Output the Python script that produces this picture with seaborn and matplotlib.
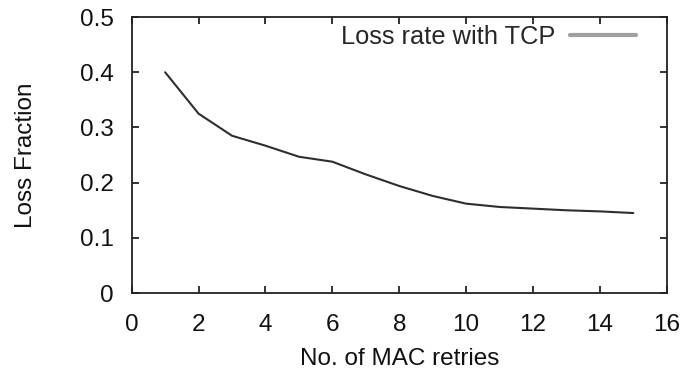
import matplotlib
matplotlib.use("Agg")
import matplotlib.pyplot as plt
import seaborn as sns
import pandas as pd
from matplotlib.lines import Line2D

retries = [1, 2, 3, 4, 5, 6, 7, 8, 9, 10, 11, 12, 13, 14, 15]
loss = [0.400, 0.325, 0.285, 0.267, 0.247, 0.238, 0.215, 0.194, 0.176,
        0.162, 0.156, 0.153, 0.150, 0.148, 0.145]
x_ticks = [0, 2, 4, 6, 8, 10, 12, 14, 16]
y_ticks = [0, 0.1, 0.2, 0.3, 0.4, 0.5]
y_tick_labels = ["0", "0.1", "0.2", "0.3", "0.4", "0.5"]

sns.set_theme(style="ticks")
plt.rcParams['font.family'] = ['Liberation Sans', 'DejaVu Sans']

df = pd.DataFrame({"retries": retries, "loss": loss})

FS = 17.5
fig = plt.figure(figsize=(6.86, 3.71), dpi=100)
ax = fig.add_axes([0.192, 0.210, 0.780, 0.744])
sns.lineplot(data=df, x="retries", y="loss", ax=ax, color="#2e2e2e", linewidth=1.5)

ax.set_xlim(0, 16)
ax.set_ylim(0, 0.5)
ax.set_xticks(x_ticks)
ax.set_yticks(y_ticks)
ax.set_yticklabels(y_tick_labels)
ax.tick_params(direction="in", top=True, right=True, length=5, width=1.2,
               labelsize=FS, colors="#111111")
ax.tick_params(axis="y", pad=13)
ax.tick_params(axis="x", pad=15)
for s in ax.spines.values():
    s.set_linewidth(1.3)
    s.set_color("#222222")
ax.set_xlabel("No. of MAC retries", fontsize=FS, labelpad=9, color="#111111")
ax.set_ylabel("Loss Fraction", fontsize=FS, labelpad=31, color="#111111")

handle = Line2D([], [], color="#a0a0a0", linewidth=3)
ax.legend([handle], ["Loss rate with TCP"], loc="upper right", frameon=False,
          markerfirst=False, fontsize=18.3, handlelength=2.6, borderaxespad=0,
          borderpad=0, handletextpad=0.6, bbox_to_anchor=(0.943, 0.973))

fig.savefig("out.png", dpi=100)
